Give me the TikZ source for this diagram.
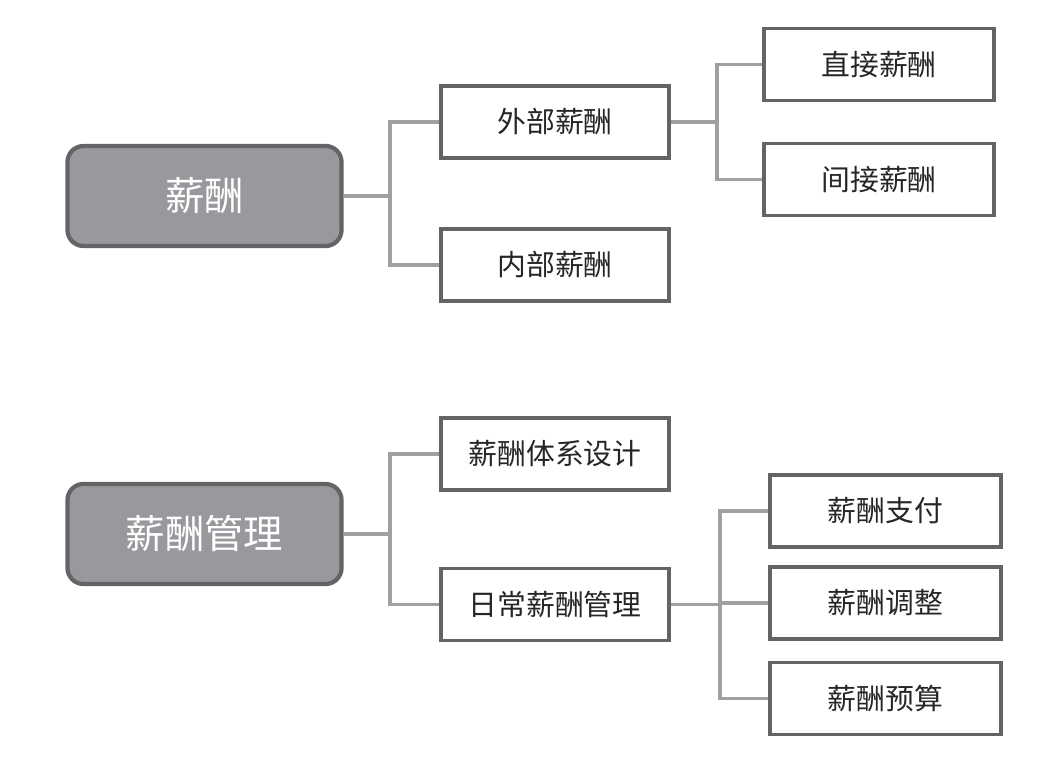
\documentclass[tikz,border=0pt]{standalone}
\usepackage{fontspec}
\setmainfont{Noto Sans CJK SC}
\usepackage{xcolor}
\definecolor{RootFill}{RGB}{151, 153, 156}
\definecolor{BoxEdge}{RGB}{100, 100, 103}
\definecolor{LinkGray}{RGB}{160, 160, 163}
\usetikzlibrary{positioning}

\begin{document}
\begin{tikzpicture}[
        x=0.025cm, y=-0.025cm,
        root/.style={rectangle, draw=BoxEdge, fill=RootFill, line width=3pt, rounded corners=0.4cm, minimum width=6.85cm, minimum height=2.5cm, text=white, font=\fontsize{28pt}{32pt}\selectfont},
        box/.style={rectangle, draw=BoxEdge, fill=white, line width=2.5pt, minimum width=5.7cm, minimum height=1.8cm, text=black!85, font=\fontsize{20.5pt}{24pt}\selectfont},
        link/.style={draw=LinkGray, line width=2.3pt}
    ]
        \useasboundingbox (0,0) rectangle (1061,763);

        % Nodes (upper tree)
        \node[root] (pay) at (204.5,196) {薪酬};
        \node[box] (ext) at (555,122) {外部薪酬};
        \node[box] (int) at (555,265) {内部薪酬};
        \node[box, minimum width=5.75cm] (direct) at (879,64.5) {直接薪酬};
        \node[box, minimum width=5.75cm] (indirect) at (879,179.5) {间接薪酬};

        % Nodes (lower tree)
        \node[root] (mgmt) at (204.5,534) {薪酬管理};
        \node[box] (system) at (555,454) {薪酬体系设计};
        \node[box] (daily) at (555,604.5) {日常薪酬管理};
        \node[box, minimum width=5.775cm] (payout) at (885.5,511) {薪酬支付};
        \node[box, minimum width=5.775cm] (adjust) at (885.5,603) {薪酬调整};
        \node[box, minimum width=5.775cm] (budget) at (885.5,698.5) {薪酬预算};

        % Junctions
        \coordinate (j1) at (390,196);
        \coordinate (j2) at (717,122);
        \coordinate (j3) at (390,534);
        \coordinate (j4) at (720,604.5);

        % Connections
        \draw[link] (pay.east) -- (j1);
        \draw[link] (j1) |- (ext.west);
        \draw[link] (j1) |- (int.west);
        \draw[link] (ext.east) -- (j2);
        \draw[link] (j2) |- (direct.west);
        \draw[link] (j2) |- (indirect.west);
        \draw[link] (mgmt.east) -- (j3);
        \draw[link] (j3) |- (system.west);
        \draw[link] (j3) |- (daily.west);
        \draw[link] (daily.east) -- (j4);
        \draw[link] (j4) |- (payout.west);
        \draw[link] (j4) |- (adjust.west);
        \draw[link] (j4) |- (budget.west);

    \end{tikzpicture}
\end{document}
